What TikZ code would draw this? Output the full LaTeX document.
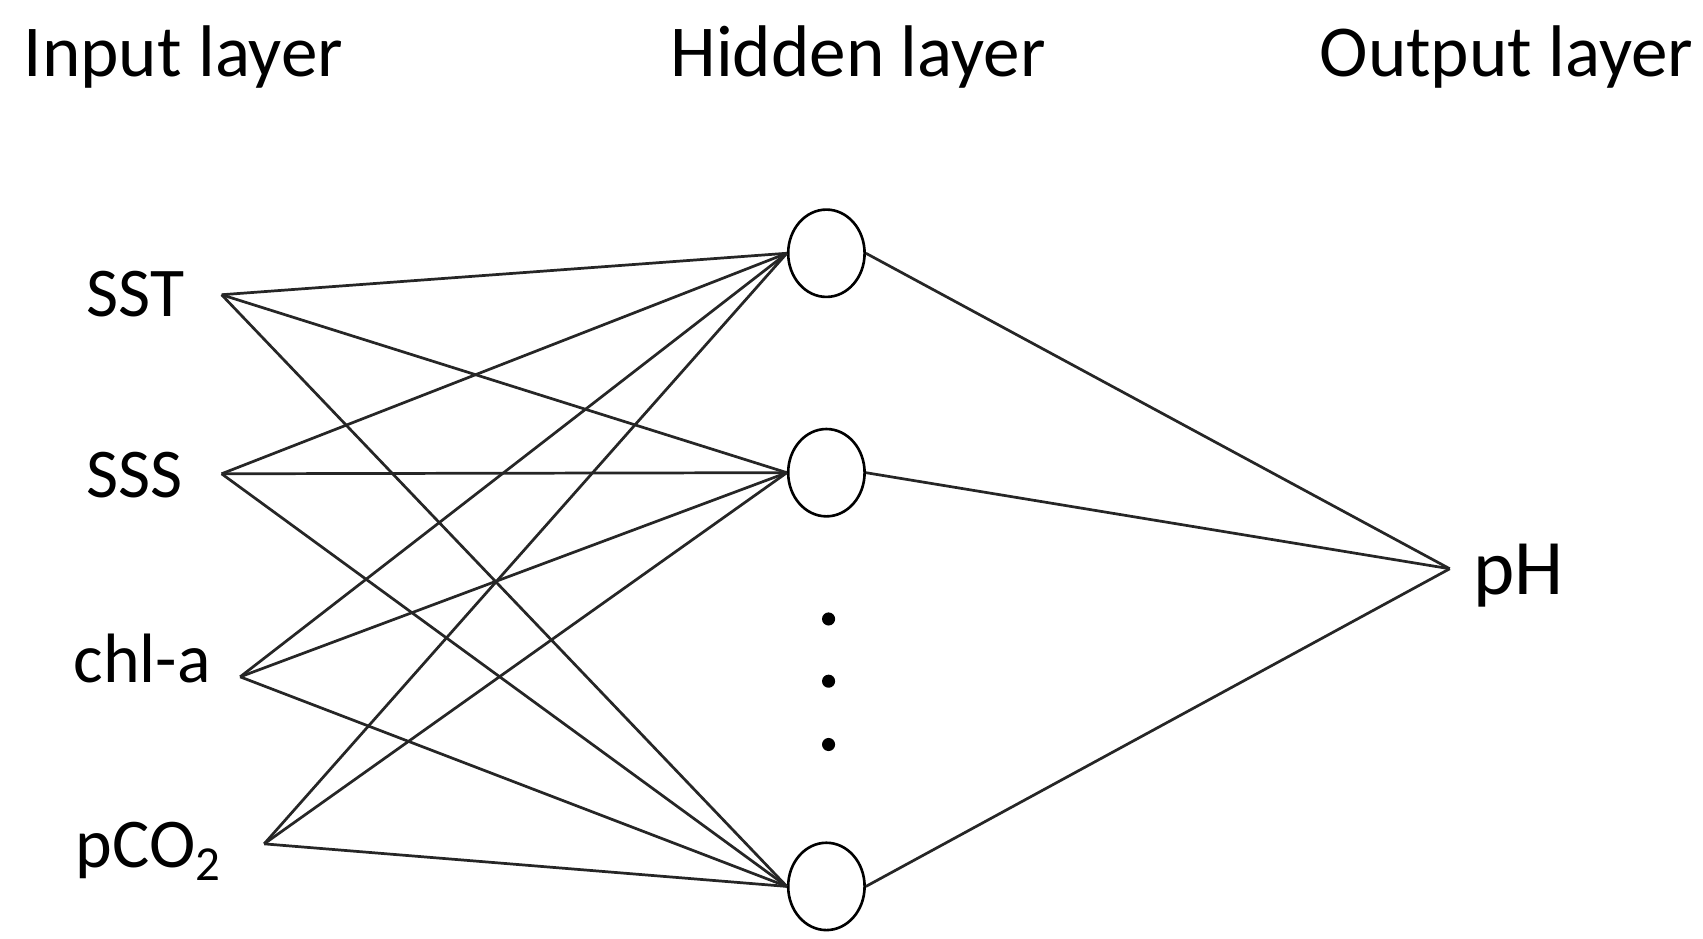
\documentclass[tikz,border=0pt]{standalone}
\usepackage{fontspec}
\setmainfont{Carlito}
\usetikzlibrary{shapes.geometric}
\tikzset{
  heading/.style={font=\fontsize{33.5}{40}\selectfont, inner sep=0pt, anchor=base},
  invar/.style={font=\fontsize{32}{38}\selectfont, inner sep=0pt, anchor=base west},
  outvar/.style={font=\fontsize{36}{42}\selectfont, inner sep=0pt, anchor=base west},
  neuron/.style={ellipse, draw, line width=1.2pt, minimum width=35pt, minimum height=40pt, inner sep=0pt},
  link/.style={line width=1.25pt, black!85},
  dot/.style={circle, fill, inner sep=0pt, minimum size=6pt}
}

\begin{document}
\begin{tikzpicture}[x=0.5pt, y=-0.5pt]
    \useasboundingbox (0,0) rectangle (1560,860);

    % layer titles
    \node[heading] (tin) at (168,70) {Input layer};
    \node[heading] (thid) at (786,70) {Hidden layer};
    \node[heading] (tout) at (1380,70) {Output layer};

    % inputs
    \node[invar] (sst) at (79,290) {SST};
    \node[invar] (sss) at (79,456) {SSS};
    \node[invar] (chl) at (67,625) {chl-a};
    \node[invar] (pco) at (69,795) {pCO\textsubscript{2}};
    \coordinate (i1) at (203,270);
    \coordinate (i2) at (203,434);
    \coordinate (i3) at (220,620);
    \coordinate (i4) at (242,773);

    % hidden layer
    \node[neuron] (h1) at (757,232) {};
    \node[neuron] (h2) at (757,433) {};
    \node[neuron] (h3) at (757,812) {};
    \foreach \y/\n in {567/d1,624/d2,682/d3}
        \node[dot] (\n) at (759,\y) {};

    % output
    \node[outvar] (ph) at (1349,545) {pH};
    \coordinate (o1) at (1328,521);

    \foreach \i in {i1,i2,i3,i4}
        \foreach \h in {h1,h2,h3}
            \draw[link] (\i) -- (\h.west);
    \foreach \h in {h1,h2,h3}
        \draw[link] (\h.east) -- (o1);
\end{tikzpicture}
\end{document}
